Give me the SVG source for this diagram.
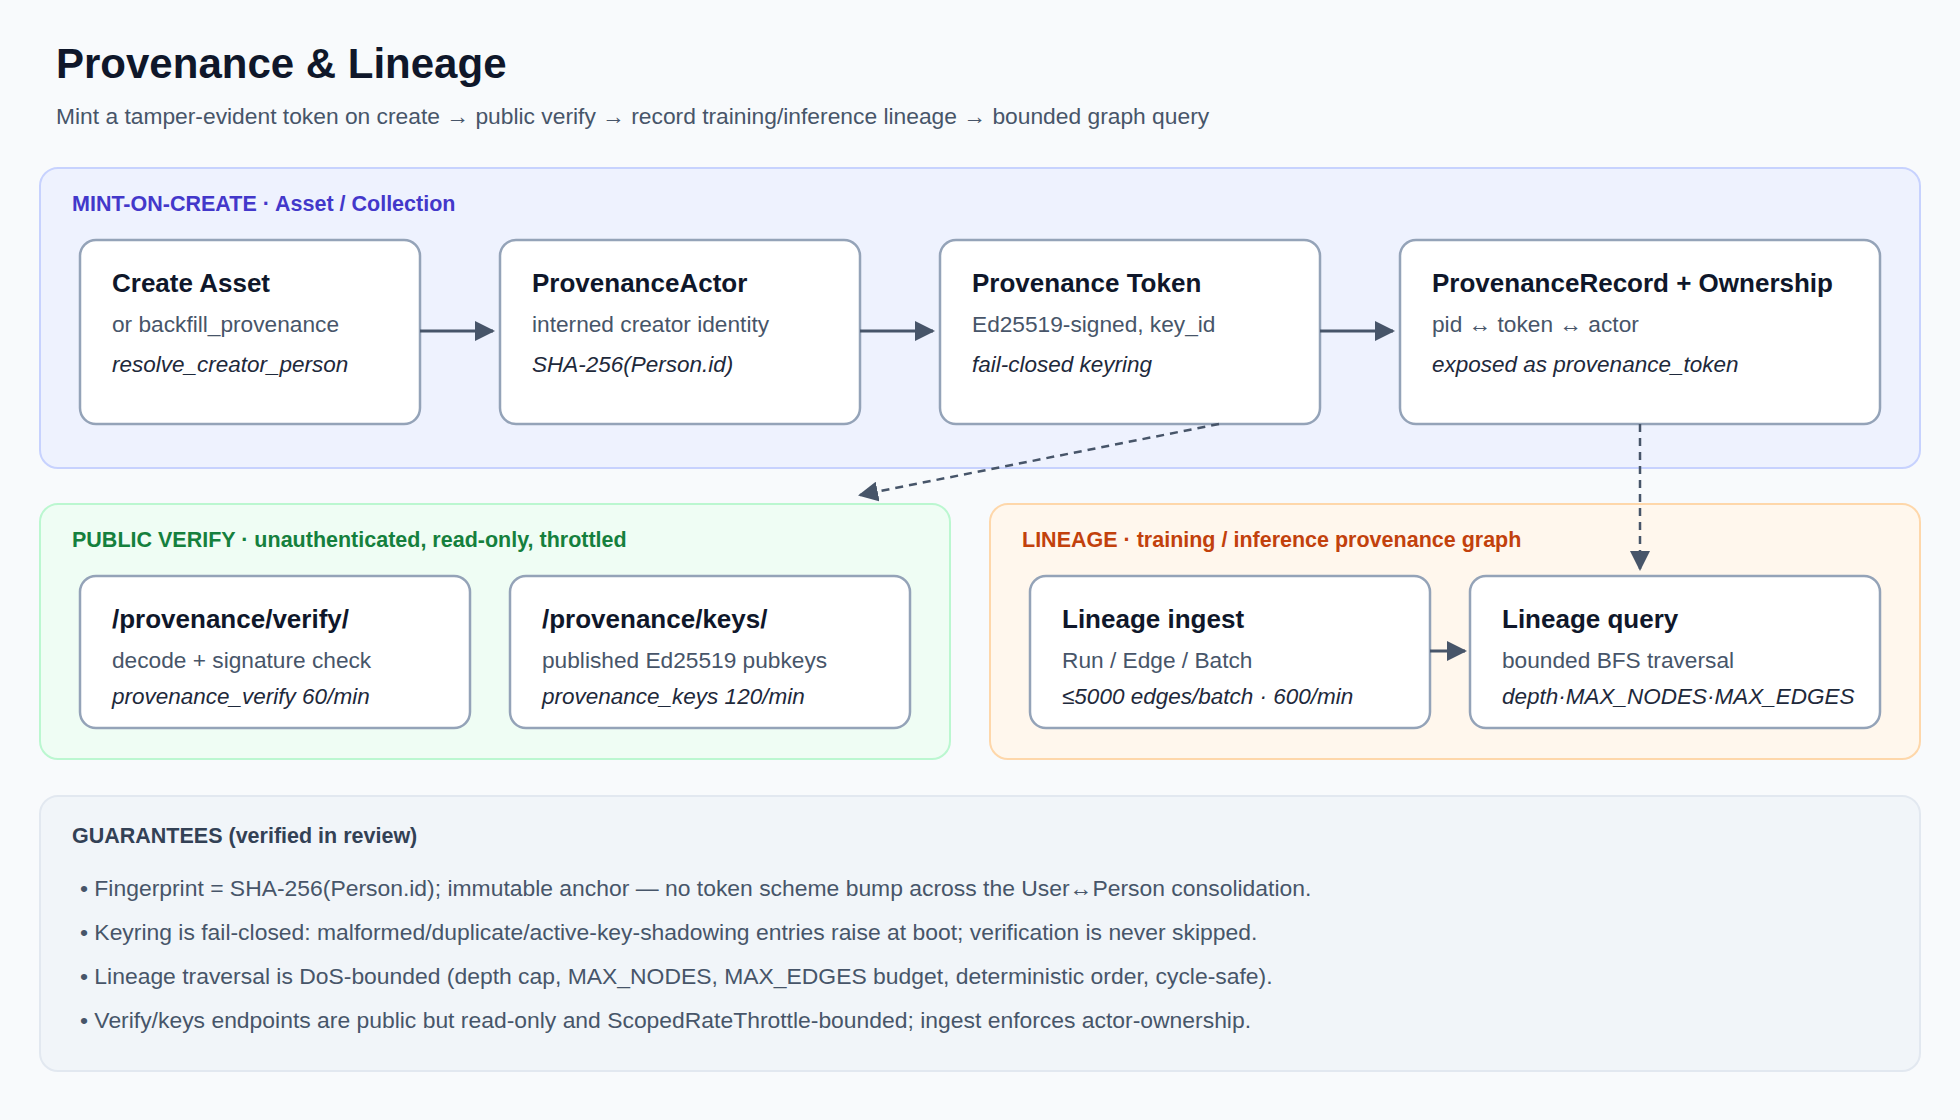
<svg xmlns="http://www.w3.org/2000/svg" width="1960" height="1120" viewBox="0 0 1960 1120">
<style>
text{font-family:"Liberation Sans",Arial,sans-serif}
.t{font-size:26px;font-weight:bold;fill:#0f172a}
.s{font-size:22.7px;fill:#475569}
.i{font-size:22.5px;font-style:italic;fill:#1e293b}
.n{fill:#fff;stroke:#94a3b8;stroke-width:2.5}
.pl{font-size:21.5px;font-weight:bold}
.b{font-size:22.9px;fill:#475569}
.c{stroke:#475569;stroke-width:3;fill:none}
.d{stroke:#475569;stroke-width:2.5;fill:none;stroke-dasharray:8 6}
</style>
<defs><marker id="a" viewBox="0 0 10 10" refX="9" refY="5" markerWidth="20" markerHeight="20" markerUnits="userSpaceOnUse" orient="auto"><path d="M0,0L10,5L0,10z" fill="#475569"/></marker></defs>
<rect width="1960" height="1120" fill="#f8fafc"/>
<text x="56" y="78" font-size="42" font-weight="bold" fill="#0f172a">Provenance &amp; Lineage</text>
<text x="56" y="124" font-size="22.8" fill="#475569">Mint a tamper-evident token on create → public verify → record training/inference lineage → bounded graph query</text>
<g id="panel-mint"><rect x="40" y="168" width="1880" height="300" rx="18" fill="#eef2fe" stroke="#c7d2fe" stroke-width="2"/>
<text x="72" y="211" class="pl" fill="#4338ca">MINT-ON-CREATE · Asset / Collection</text></g>
<g id="panel-verify"><rect x="40" y="504" width="910" height="255" rx="18" fill="#effdf4" stroke="#bbf7d0" stroke-width="2"/>
<text x="72" y="547" class="pl" fill="#15803d">PUBLIC VERIFY · unauthenticated, read-only, throttled</text></g>
<g id="panel-lineage"><rect x="990" y="504" width="930" height="255" rx="18" fill="#fff7ed" stroke="#fed7aa" stroke-width="2"/>
<text x="1022" y="547" class="pl" fill="#c2410c">LINEAGE · training / inference provenance graph</text></g>
<g id="n1"><rect class="n" x="80" y="240" width="340" height="184" rx="16"/><text x="112" y="292" class="t">Create Asset</text><text x="112" y="332" class="s">or backfill_provenance</text><text x="112" y="372" class="i">resolve_creator_person</text></g>
<g id="n2"><rect class="n" x="500" y="240" width="360" height="184" rx="16"/><text x="532" y="292" class="t">ProvenanceActor</text><text x="532" y="332" class="s">interned creator identity</text><text x="532" y="372" class="i">SHA-256(Person.id)</text></g>
<g id="n3"><rect class="n" x="940" y="240" width="380" height="184" rx="16"/><text x="972" y="292" class="t">Provenance Token</text><text x="972" y="332" class="s">Ed25519-signed, key_id</text><text x="972" y="372" class="i">fail-closed keyring</text></g>
<g id="n4"><rect class="n" x="1400" y="240" width="480" height="184" rx="16"/><text x="1432" y="292" class="t">ProvenanceRecord + Ownership</text><text x="1432" y="332" class="s">pid ↔ token ↔ actor</text><text x="1432" y="372" class="i">exposed as provenance_token</text></g>
<g id="n5"><rect class="n" x="80" y="576" width="390" height="152" rx="16"/><text x="112" y="628" class="t">/provenance/verify/</text><text x="112" y="668" class="s">decode + signature check</text><text x="112" y="704" class="i">provenance_verify 60/min</text></g>
<g id="n6"><rect class="n" x="510" y="576" width="400" height="152" rx="16"/><text x="542" y="628" class="t">/provenance/keys/</text><text x="542" y="668" class="s">published Ed25519 pubkeys</text><text x="542" y="704" class="i">provenance_keys 120/min</text></g>
<g id="n7"><rect class="n" x="1030" y="576" width="400" height="152" rx="16"/><text x="1062" y="628" class="t">Lineage ingest</text><text x="1062" y="668" class="s">Run / Edge / Batch</text><text x="1062" y="704" class="i">≤5000 edges/batch · 600/min</text></g>
<g id="n8"><rect class="n" x="1470" y="576" width="410" height="152" rx="16"/><text x="1502" y="628" class="t">Lineage query</text><text x="1502" y="668" class="s">bounded BFS traversal</text><text x="1502" y="704" class="i">depth·MAX_NODES·MAX_EDGES</text></g>
<g id="connectors">
<line class="c" x1="420" y1="331" x2="493" y2="331" marker-end="url(#a)"/>
<line class="c" x1="860" y1="331" x2="933" y2="331" marker-end="url(#a)"/>
<line class="c" x1="1320" y1="331" x2="1393" y2="331" marker-end="url(#a)"/>
<line class="c" x1="1430" y1="651" x2="1465" y2="651" marker-end="url(#a)"/>
<line class="d" x1="1219" y1="424" x2="860" y2="495" marker-end="url(#a)"/>
<line class="d" x1="1640" y1="424" x2="1640" y2="569" marker-end="url(#a)"/>
</g>
<g id="panel-guarantees"><rect x="40" y="796" width="1880" height="275" rx="18" fill="#f1f5f9" stroke="#e2e8f0" stroke-width="2"/>
<text x="72" y="843" class="pl" fill="#334155">GUARANTEES (verified in review)</text>
<text x="80" y="896" class="b">• Fingerprint = SHA-256(Person.id); immutable anchor — no token scheme bump across the User↔Person consolidation.</text>
<text x="80" y="940" class="b">• Keyring is fail-closed: malformed/duplicate/active-key-shadowing entries raise at boot; verification is never skipped.</text>
<text x="80" y="984" class="b">• Lineage traversal is DoS-bounded (depth cap, MAX_NODES, MAX_EDGES budget, deterministic order, cycle-safe).</text>
<text x="80" y="1028" class="b">• Verify/keys endpoints are public but read-only and ScopedRateThrottle-bounded; ingest enforces actor-ownership.</text></g>
</svg>
